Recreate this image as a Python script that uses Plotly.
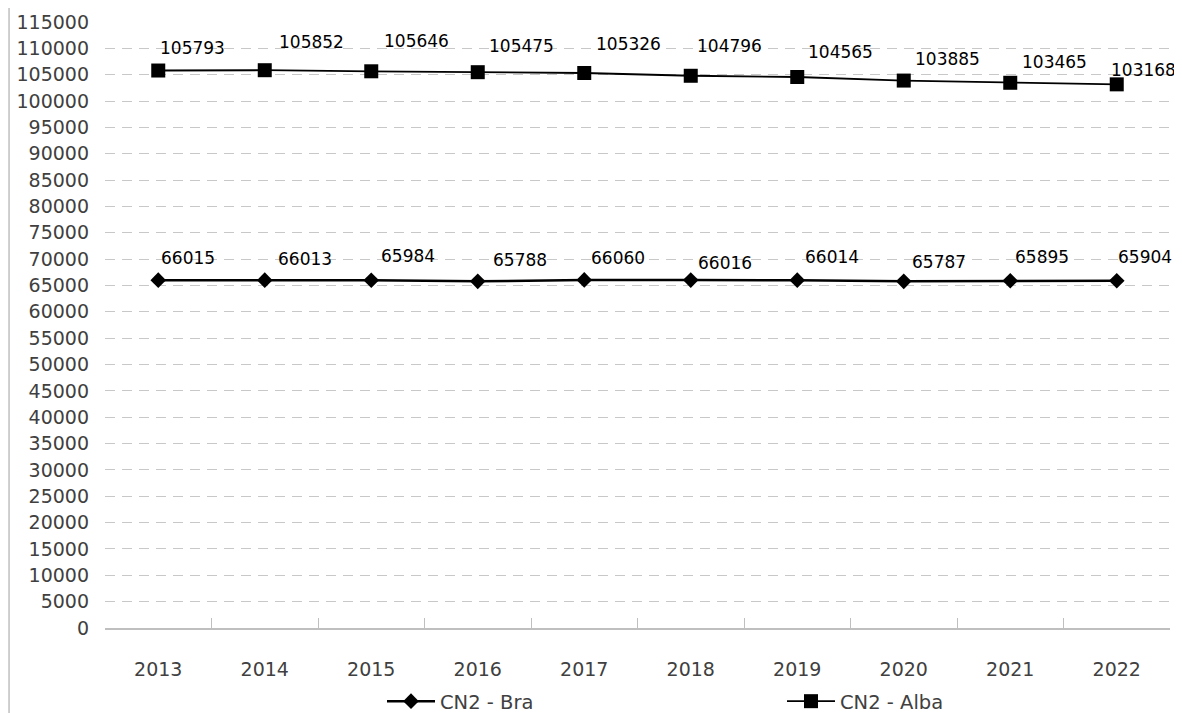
import plotly.graph_objects as go

years = ["2013", "2014", "2015", "2016", "2017", "2018", "2019", "2020", "2021", "2022"]
bra = [66015, 66013, 65984, 65788, 66060, 66016, 66014, 65787, 65895, 65904]
alba = [105793, 105852, 105646, 105475, 105326, 104796, 104565, 103885, 103465, 103168]
y_ticks = list(range(0, 115001, 5000))

FONT = "DejaVu Sans"

fig = go.Figure()
fig.add_trace(go.Scatter(
    x=years, y=bra, name="CN2 - Bra", mode="lines+markers",
    line=dict(color="black", width=2.5),
    marker=dict(symbol="diamond", size=12, color="black"),
))
fig.add_trace(go.Scatter(
    x=years, y=alba, name="CN2 - Alba", mode="lines+markers",
    line=dict(color="black", width=1.8),
    marker=dict(symbol="square", size=14, color="black"),
))

# data label offsets (style only, in px)
alba_dx = [34, 47, 45, 44, 44, 39, 43, 44, 44, 27]
alba_dy = [23, 28, 30, 26, 29, 30, 25, 22, 21, 14]
bra_dx = [30, 40, 37, 42, 34, 34, 35, 35, 32, 28]
bra_dy = [22, 21, 24, 21, 22, 17, 23, 19, 24, 24]
for i, yr in enumerate(years):
    fig.add_annotation(x=i, y=alba[i], text=str(alba[i]), showarrow=False,
                       xanchor="center", yanchor="middle",
                       xshift=alba_dx[i], yshift=alba_dy[i],
                       font=dict(family=FONT, size=17, color="black"))
    fig.add_annotation(x=i, y=bra[i], text=str(bra[i]), showarrow=False,
                       xanchor="center", yanchor="middle",
                       xshift=bra_dx[i], yshift=bra_dy[i],
                       font=dict(family=FONT, size=17, color="black"))

# left frame line
fig.add_shape(type="line", xref="paper", yref="paper",
              x0=-0.0901, x1=-0.0901, y0=-0.2, y1=1.1,
              line=dict(color="#bfbfbf", width=1.5))

fig.update_layout(
    width=1174, height=713,
    margin=dict(l=97, r=12, t=14, b=93),
    paper_bgcolor="white", plot_bgcolor="white",
    font=dict(family=FONT, size=19, color="#404040"),
    showlegend=True,
    legend=dict(orientation="h", xref="paper", x=0.266, xanchor="left",
                yref="container", y=0, yanchor="bottom",
                entrywidth=337, itemwidth=48, bgcolor="rgba(0,0,0,0)",
                font=dict(family=FONT, size=19.5, color="#404040")),
)
fig.update_xaxes(
    type="category", range=[-0.5, 9.5], automargin=False,
    showline=True, linecolor="#bfbfbf", linewidth=1.5,
    ticks="inside", tickson="boundaries", ticklen=10, tickcolor="#bfbfbf", tickwidth=1,
    showgrid=False, ticklabelstandoff=23,
    tickfont=dict(family=FONT, size=19, color="#404040"),
)
fig.update_yaxes(
    range=[0, 115000], tickvals=y_ticks, ticktext=[str(v) for v in y_ticks],
    automargin=False,
    showgrid=True, gridcolor="#c8c8c8", gridwidth=1, griddash="10px,7px",
    zeroline=False, showline=False, ticks="", ticklabelstandoff=15,
    tickfont=dict(family=FONT, size=19, color="#404040"),
)

fig.write_html("out.html")
